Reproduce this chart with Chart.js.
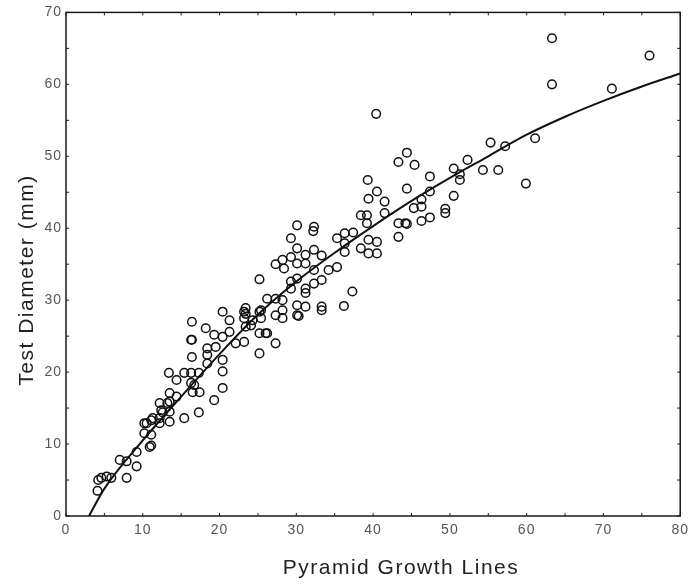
<!DOCTYPE html>
<html>
<head>
<meta charset="utf-8">
<script src="https://cdn.jsdelivr.net/npm/chart.js@4/dist/chart.umd.min.js"></script>
<style>
  body { margin: 0; background: #fff; }
  canvas { display: block; }
</style>
</head>
<body>
<canvas id="chart" width="695" height="584"></canvas>
<script>
// growth lines (x) vs test diameter in mm (y)
const growthLines = [
  4.1, 4.2, 4.6, 5.3, 5.9, 7.9, 7.0, 7.9, 9.2, 9.2, 10.9, 11.1, 10.2, 11.1, 10.2, 10.5, 11.1, 11.3, 12.2, 12.2,
  12.4, 12.6, 12.2, 13.2, 13.5, 14.4, 13.5, 13.5, 13.5, 15.4, 17.3, 16.5, 17.4, 16.7, 14.4, 19.3, 16.3, 20.4, 13.4, 15.4,
  16.3, 17.3, 16.4, 16.4, 16.4, 18.2, 19.3, 18.4, 18.4, 18.4, 19.5, 20.4, 21.3, 20.4, 21.3, 20.4, 20.4, 22.1, 23.2, 23.2,
  23.2, 24.1, 25.2, 25.2, 25.2, 26.0,
  25.2, 30.1, 32.3, 32.2, 29.3, 30.1, 31.2, 32.3, 33.3, 29.3, 28.2, 27.3, 28.4, 30.1, 31.2, 29.3, 29.3, 30.1, 31.2, 31.2,
  32.3, 33.3, 26.2, 27.3, 28.2, 30.1, 31.2, 33.3, 33.3, 28.2, 28.2, 30.1, 23.4, 23.4, 25.4, 24.3, 25.4, 27.3, 23.4, 26.2,
  27.3, 16.3, 32.3,
  39.4, 40.5, 41.5, 41.5, 38.4, 39.2, 39.2, 43.3, 44.2, 43.3, 35.3, 36.3, 37.4, 36.3, 39.4, 40.5, 38.4, 39.4, 40.5, 36.3,
  35.3, 34.2, 37.3, 36.2, 30.3,
  40.4, 55.3, 57.2, 59.9, 44.4, 43.3, 45.4, 47.4, 52.3, 50.5, 51.3, 51.3, 54.3, 56.3, 39.3, 44.4, 47.4, 50.5, 46.3, 45.3,
  46.3, 49.4, 49.4, 44.4, 46.3, 47.4,
  63.3, 76.0, 63.3, 71.1, 61.1
];
const diameter = [
  3.5, 5.0, 5.3, 5.5, 5.3, 5.3, 7.8, 7.6, 6.9, 8.9, 9.6, 9.8, 11.5, 11.3, 12.9, 12.9, 13.3, 13.6, 13.6, 12.9,
  14.7, 14.4, 15.7, 15.7, 17.1, 16.6, 13.1, 14.5, 15.9, 13.6, 14.4, 17.2, 17.2, 18.2, 18.9, 16.1, 18.5, 17.8, 19.9, 19.9,
  19.9, 19.9, 22.1, 24.5, 27.0, 26.1, 25.2, 23.3, 22.4, 21.2, 23.5, 24.9, 25.6, 28.4, 27.2, 21.7, 20.1, 24.0, 24.2, 27.5,
  28.4, 26.5, 25.4, 22.6, 28.4, 25.4,
  32.9, 40.4, 40.2, 39.6, 38.6, 37.2, 36.3, 37.0, 36.2, 36.0, 35.6, 35.0, 34.4, 35.1, 35.1, 32.6, 31.6, 33.0, 31.6, 31.0,
  32.3, 32.8, 30.2, 30.2, 30.0, 29.3, 29.1, 29.1, 28.6, 28.6, 27.5, 27.9, 28.9, 28.1, 28.6, 27.2, 27.5, 27.9, 26.3, 25.4,
  24.0, 24.5, 34.2,
  44.1, 45.1, 43.7, 42.1, 41.8, 41.8, 40.7, 40.7, 40.7, 38.8, 38.6, 39.3, 39.4, 37.9, 38.4, 38.1, 37.2, 36.5, 36.5, 36.7,
  34.6, 34.2, 31.2, 29.2, 27.8,
  55.9, 51.9, 51.4, 46.2, 50.5, 49.2, 48.8, 47.2, 49.5, 48.3, 47.5, 46.7, 48.1, 48.1, 46.7, 45.5, 45.1, 44.5, 44.0, 42.8,
  43.0, 42.7, 42.1, 40.6, 41.0, 41.5,
  66.4, 64.0, 60.0, 59.4, 52.5
];

// fitted growth curve
const curveX = [3, 5, 10, 15, 20, 25, 30, 35, 40, 45, 50, 55, 60, 65, 70, 75, 80];
const curveY = [0, 3.8, 10.5, 16.6, 22.5, 28.0, 32.6, 36.6, 40.3, 43.8, 47.0, 50.0, 53.0, 55.5, 57.7, 59.7, 61.5];

const xTicks = [0, 10, 20, 30, 40, 50, 60, 70, 80];
const yTicks = [0, 10, 20, 30, 40, 50, 60, 70];
const xTitle = 'Pyramid Growth Lines';
const yTitle = 'Test Diameter (mm)';

const points = growthLines.map((g, i) => ({ x: g, y: diameter[i] }));
const curve = curveX.map((g, i) => ({ x: g, y: curveY[i] }));

const family = 'Liberation Sans, Arial, sans-serif';

// box round the plot with small inward ticks, plus the axis titles where the figure has them
const framePlugin = {
  id: 'frame',
  beforeLayout(chart) { chart.ctx.letterSpacing = '1px'; },
  beforeDraw(chart) { chart.ctx.letterSpacing = '1px'; },
  afterDatasetsDraw(chart) {
    const { ctx, chartArea: a, scales: { x, y } } = chart;
    ctx.save();
    ctx.strokeStyle = '#1a1a1a';
    ctx.lineWidth = 1.5;
    ctx.strokeRect(a.left, a.top, a.right - a.left, a.bottom - a.top);
    ctx.lineWidth = 1;
    ctx.beginPath();
    for (let v = 0; v <= 80; v += 5) {
      const px = x.getPixelForValue(v);
      ctx.moveTo(px, a.bottom); ctx.lineTo(px, a.bottom - 3);
      ctx.moveTo(px, a.top); ctx.lineTo(px, a.top + 3);
    }
    for (let v = 0; v <= 70; v += 5) {
      const py = y.getPixelForValue(v);
      ctx.moveTo(a.left, py); ctx.lineTo(a.left + 3, py);
      ctx.moveTo(a.right, py); ctx.lineTo(a.right - 3, py);
    }
    ctx.stroke();

    ctx.fillStyle = '#222';
    ctx.font = '21px ' + family;
    ctx.letterSpacing = '1.5px';
    ctx.textAlign = 'center';
    ctx.textBaseline = 'middle';
    ctx.fillText(xTitle, 401, 568);
    ctx.translate(27, 280);
    ctx.rotate(-Math.PI / 2);
    ctx.fillText(yTitle, 0, 0);
    ctx.restore();
  }
};

const tickFont = { family: family, size: 14 };

new Chart(document.getElementById('chart'), {
  type: 'scatter',
  data: {
    datasets: [
      {
        type: 'line',
        data: curve,
        borderColor: '#111',
        borderWidth: 2,
        pointRadius: 0,
        fill: false,
        cubicInterpolationMode: 'monotone'
      },
      {
        data: points,
        pointRadius: 4.3,
        pointBorderWidth: 1.5,
        borderColor: '#111',
        backgroundColor: 'rgba(255,255,255,0)'
      }
    ]
  },
  options: {
    responsive: false,
    animation: false,
    layout: { padding: { left: 0, right: 13, top: 12, bottom: 0 } },
    plugins: { legend: { display: false }, tooltip: { enabled: false } },
    scales: {
      x: {
        type: 'linear',
        min: 0, max: 80,
        afterFit(s) { s.height = 68; },
        afterBuildTicks(s) { s.ticks = xTicks.map(v => ({ value: v })); },
        grid: { display: false, drawTicks: false },
        border: { display: false },
        ticks: { font: tickFont, color: '#555', padding: 6 }
      },
      y: {
        type: 'linear',
        min: 0, max: 70,
        afterFit(s) { s.width = 66; },
        afterBuildTicks(s) { s.ticks = yTicks.map(v => ({ value: v })); },
        grid: { display: false, drawTicks: false },
        border: { display: false },
        ticks: { font: tickFont, color: '#555', padding: 4 }
      }
    }
  },
  plugins: [framePlugin]
});
</script>
</body>
</html>
